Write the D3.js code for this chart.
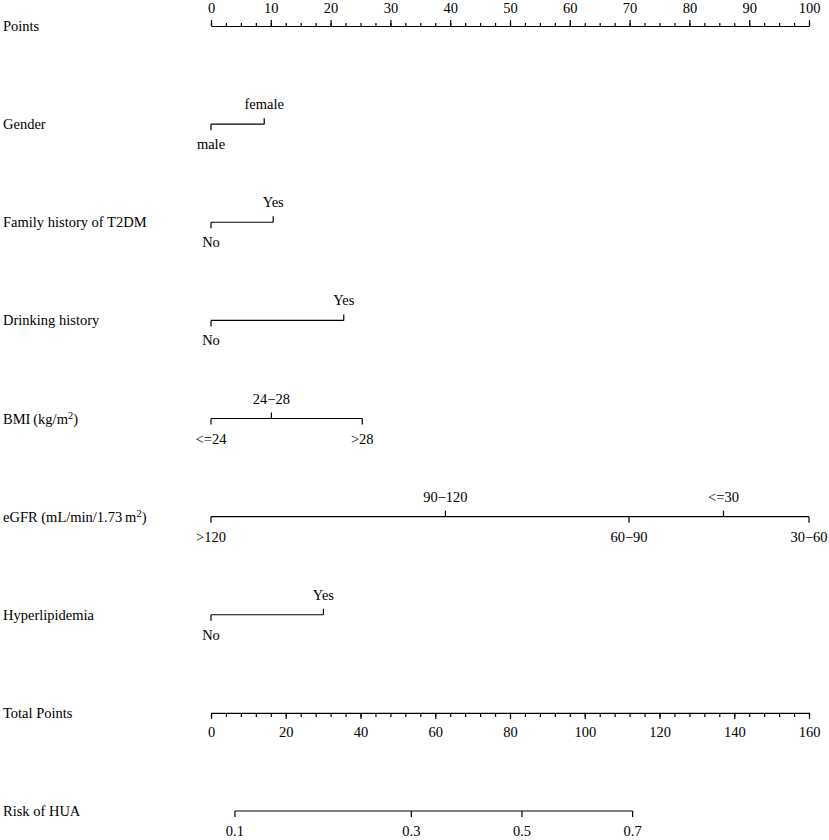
<!DOCTYPE html>
<html>
<head>
<meta charset="utf-8">
<script src="https://cdn.jsdelivr.net/npm/d3@7"></script>
<style>
  body { margin: 0; background: #fff; }
  svg { display: block; }
</style>
</head>
<body>
<div id="chart"></div>
<script>
// rows of the nomogram, top to bottom
const rowNames = ['Points', 'Gender', 'Family history of T2DM', 'Drinking history', 'BMI', 'eGFR', 'Hyperlipidemia', 'Total Points', 'Risk of HUA']

// factor levels and the points
const genderLevels = ['male', 'female']
const genderPoints = [0, 8.9]
const familyLevels = ['No', 'Yes']
const familyPoints = [0, 10.4]
const drinkLevels = ['No', 'Yes']
const drinkPoints = [0, 22.2]
const bmiLevels = ['<=24', '24\u221228', '>28']
const bmiPoints = [0, 10.1, 25.3]
const egfrLevels = ['>120', '90\u2212120', '60\u221290', '<=30', '30\u221260']
const egfrPoints = [0, 39.2, 69.9, 85.7, 100]
const hyperLevels = ['No', 'Yes']
const hyperPoints = [0, 18.8]

// risk axis: probability labels and where they sit on the total points scale
const riskTicks = ['0.1', '0.3', '0.5', '0.7']
const riskTotal = [6.4, 53.6, 83.2, 112.8]

const width = 829
const height = 840
const fs = 14.5
const font = '"Liberation Serif", "Times New Roman", serif'

const x = d3.scaleLinear().domain([0, 100]).range([211, 809])
const xt = d3.scaleLinear().domain([0, 160]).range([211, 809])
const y = d3.scalePoint().domain(rowNames).range([26, 811])

const svg = d3.select('#chart')
  .append('svg')
  .attr('width', width)
  .attr('height', height)
  .attr('font-family', font)
  .attr('font-size', fs)

// row names on the left
const names = svg.append('g')
  .selectAll('text')
  .data(rowNames)
  .join('text')
  .attr('x', 3)
  .attr('y', d => y(d) + 5)
  .attr('fill', '#000')

names.each(function (d) {
  const t = d3.select(this)
  if (d === 'BMI') {
    t.append('tspan').text('BMI\u2009(kg/m')
    t.append('tspan').attr('font-size', fs * 0.72).attr('dy', -5).text('2')
    t.append('tspan').attr('dy', 5).text(')')
  } else if (d === 'eGFR') {
    t.append('tspan').text('eGFR (mL/min/1.73\u2009m')
    t.append('tspan').attr('font-size', fs * 0.72).attr('dy', -5).text('2')
    t.append('tspan').attr('dy', 5).text(')')
  } else {
    t.text(d)
  }
})

const lineStyle = g => g.attr('stroke', '#000').attr('stroke-width', 1.2).attr('fill', 'none')

// Points axis (top), ticks pointing up
const pts = svg.append('g').attr('transform', `translate(0,${y('Points')})`)
pts.append('g')
  .call(d3.axisTop(x).tickValues(d3.range(0, 100.01, 2.5)).tickSize(3).tickSizeOuter(0).tickFormat(''))
  .call(g => g.selectAll('line,path').attr('stroke-width', 1.2))
pts.append('g')
  .call(d3.axisTop(x).tickValues(d3.range(0, 101, 10)).tickSize(6).tickSizeOuter(0).tickPadding(7))
  .call(g => g.select('.domain').remove())
  .call(g => g.selectAll('line').attr('stroke-width', 1.2))
  .call(g => g.selectAll('text').attr('font-family', font).attr('font-size', fs))

// factor rows
const factors = [
  ['Gender', genderLevels, genderPoints],
  ['Family history of T2DM', familyLevels, familyPoints],
  ['Drinking history', drinkLevels, drinkPoints],
  ['BMI', bmiLevels, bmiPoints],
  ['eGFR', egfrLevels, egfrPoints],
  ['Hyperlipidemia', hyperLevels, hyperPoints]
]

factors.forEach(([row, levels, points]) => {
  const yy = y(row)
  const items = levels.map((l, i) => ({ label: l, p: points[i] }))
    .sort((a, b) => a.p - b.p)
    .map((d, i) => ({ ...d, up: i % 2 === 1 }))
  const g = svg.append('g')
  g.append('line')
    .attr('x1', x(d3.min(points))).attr('x2', x(d3.max(points)))
    .attr('y1', yy).attr('y2', yy)
    .call(lineStyle)
  g.selectAll('.tk')
    .data(items)
    .join('line')
    .attr('class', 'tk')
    .attr('x1', d => x(d.p)).attr('x2', d => x(d.p))
    .attr('y1', yy).attr('y2', d => (d.up ? yy - 6 : yy + 6))
    .call(lineStyle)
  g.selectAll('text')
    .data(items)
    .join('text')
    .attr('x', d => x(d.p))
    .attr('y', d => (d.up ? yy - 15 : yy + 25))
    .attr('text-anchor', 'middle')
    .text(d => d.label)
})

// Total Points axis, ticks pointing down
const tot = svg.append('g').attr('transform', `translate(0,${y('Total Points')})`)
tot.append('g')
  .call(d3.axisBottom(xt).tickValues(d3.range(0, 160.01, 4)).tickSize(4).tickSizeOuter(0).tickFormat(''))
  .call(g => g.selectAll('line,path').attr('stroke-width', 1.2))
tot.append('g')
  .call(d3.axisBottom(xt).tickValues(d3.range(0, 161, 20)).tickSize(6).tickSizeOuter(0).tickPadding(8))
  .call(g => g.select('.domain').remove())
  .call(g => g.selectAll('line').attr('stroke-width', 1.2))
  .call(g => g.selectAll('text').attr('font-family', font).attr('font-size', fs))

// Risk axis
const risk = svg.append('g').attr('transform', `translate(0,${y('Risk of HUA')})`)
risk.append('line')
  .attr('x1', xt(riskTotal[0])).attr('x2', xt(riskTotal[riskTotal.length - 1]))
  .call(lineStyle)
risk.selectAll('.tk')
  .data(riskTotal)
  .join('line')
  .attr('class', 'tk')
  .attr('x1', d => xt(d)).attr('x2', d => xt(d))
  .attr('y1', 0).attr('y2', 6)
  .call(lineStyle)
risk.selectAll('text')
  .data(riskTotal)
  .join('text')
  .attr('x', d => xt(d))
  .attr('y', 25)
  .attr('text-anchor', 'middle')
  .text((d, i) => riskTicks[i])
</script>
</body>
</html>
